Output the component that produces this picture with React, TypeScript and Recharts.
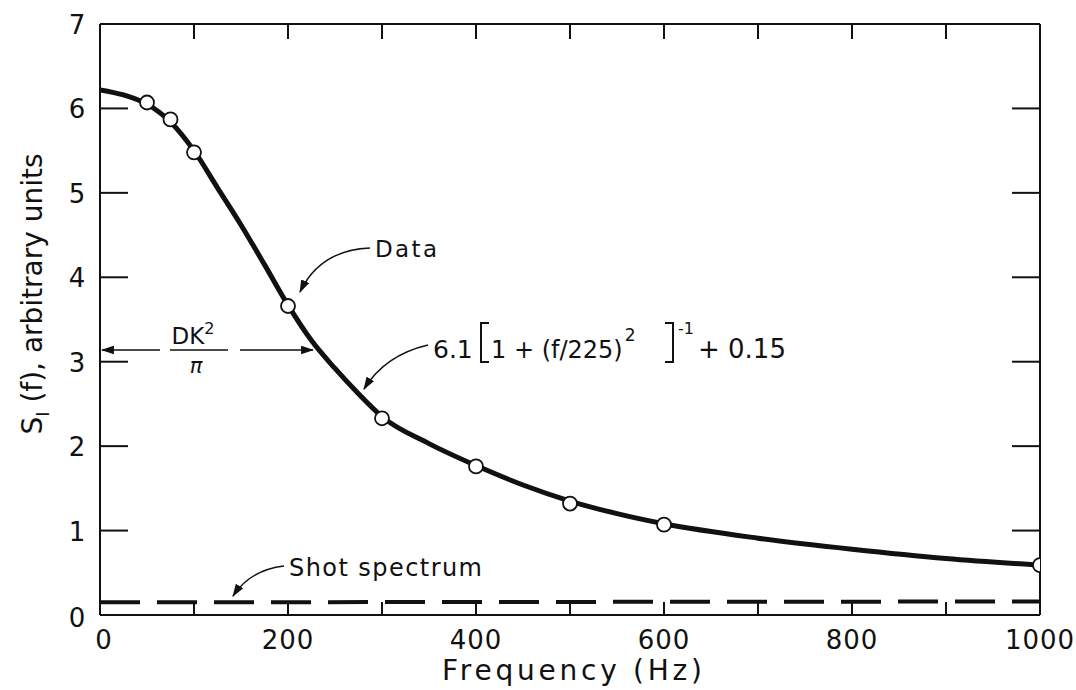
import { ComposedChart, Line, XAxis, YAxis } from "recharts";

// axis ticks
const FREQ_TICKS = [0, 100, 200, 300, 400, 500, 600, 700, 800, 900, 1000];
const FREQ_LABELS = [0, 200, 400, 600, 800, 1000];
const SI_TICKS = [0, 1, 2, 3, 4, 5, 6, 7];

// fitted curve
const fitFreq = [0, 25, 50, 75, 100, 125, 150, 175, 200, 225, 250, 275, 300, 350, 400, 450, 500, 550, 600, 700, 800, 900, 1000];
const fitValue = [6.22, 6.16, 6.05, 5.84, 5.5, 5.06, 4.62, 4.15, 3.67, 3.25, 2.92, 2.62, 2.35, 2.03, 1.77, 1.54, 1.35, 1.2, 1.08, 0.91, 0.78, 0.67, 0.59];

// measured points (open circles)
const dataFreq = [50, 75, 100, 200, 300, 400, 500, 600, 1000];
const dataValue = [6.07, 5.87, 5.48, 3.66, 2.33, 1.76, 1.32, 1.07, 0.59];

// shot-noise level (dashed)
const shotFreq = [0, 1000];
const shotValue = [0.15, 0.16];

const FONT = "DejaVu Sans";
const INK = "#111";

const zip = (xs: number[], ys: number[]) => xs.map((x, i) => ({ x, y: ys[i] }));
const fitData = zip(fitFreq, fitValue);
const pointData = zip(dataFreq, dataValue);
const shotData = zip(shotFreq, shotValue);

function BottomTick(props: any) {
  const { x, y, payload } = props;
  const v = payload.value;
  return (
    <g>
      <line x1={x} x2={x} y1={y} y2={y - 13} stroke={INK} strokeWidth={2} />
      {FREQ_LABELS.includes(v) && (
        <text x={x + (v === 0 ? 4 : 0)} y={y + 34} textAnchor="middle" fontFamily={FONT} fontSize={26} fill={INK} letterSpacing={1}>
          {v}
        </text>
      )}
    </g>
  );
}

function TopTick(props: any) {
  const { x, y, payload } = props;
  if (payload.value === 0 || payload.value === 1000) return null;
  return <line x1={x} x2={x} y1={y} y2={y + 15} stroke={INK} strokeWidth={2} />;
}

function LeftTick(props: any) {
  const { x, y, payload } = props;
  const v = payload.value;
  return (
    <g>
      {v > 0 && v < 7 && <line x1={x} x2={x + 28} y1={y} y2={y} stroke={INK} strokeWidth={2} />}
      <text x={x - 23} y={y + (v === 0 ? 12 : 10)} textAnchor="middle" fontFamily={FONT} fontSize={26} fill={INK}>
        {v}
      </text>
    </g>
  );
}

function RightTick(props: any) {
  const { x, y, payload } = props;
  const v = payload.value;
  if (v === 0 || v === 7) return null;
  return <line x1={x} x2={x - 28} y1={y} y2={y} stroke={INK} strokeWidth={2} />;
}

function Annotations() {
  const txt = { fontFamily: FONT, fill: INK };
  return (
    <svg width={1076} height={690} style={{ position: "absolute", left: 0, top: 0, pointerEvents: "none" }}>
      <defs>
        <marker id="head" viewBox="0 0 12 8" refX={11} refY={4} markerWidth={13} markerHeight={9} markerUnits="userSpaceOnUse" orient="auto">
          <path d="M0,0 L12,4 L0,8 z" fill={INK} />
        </marker>
      </defs>

      {/* Data */}
      <text x={375} y={257} fontSize={23} textLength={62} lengthAdjust="spacing" {...txt}>Data</text>
      <path d="M370 248 Q 320 250 300 292" fill="none" stroke={INK} strokeWidth={1.5} markerEnd="url(#head)" />

      {/* DK^2 / pi */}
      <line x1={160} y1={350} x2={102} y2={350} stroke={INK} strokeWidth={1.5} markerEnd="url(#head)" />
      <line x1={240} y1={350} x2={313} y2={350} stroke={INK} strokeWidth={1.5} markerEnd="url(#head)" />
      <line x1={170} y1={350} x2={228} y2={350} stroke={INK} strokeWidth={1.5} />
      <text x={193} y={344} textAnchor="middle" fontSize={23} {...txt}>
        DK<tspan dy={-10} fontSize={16}>2</tspan>
      </text>
      <text x={196} y={373} textAnchor="middle" fontSize={21} fontStyle="italic" {...txt}>π</text>

      {/* fit formula */}
      <path d="M428 345 Q 385 355 364 389" fill="none" stroke={INK} strokeWidth={1.5} markerEnd="url(#head)" />
      <text x={433} y={358} fontSize={25} {...txt}>6.1</text>
      <path d="M489 323 L481 323 L481 362 L489 362" fill="none" stroke={INK} strokeWidth={2} />
      <text x={491} y={358} fontSize={24} {...txt}>
        1 + (f/225)<tspan dx={2} dy={-17} fontSize={17}>2</tspan>
      </text>
      <path d="M665 323 L673 323 L673 362 L665 362" fill="none" stroke={INK} strokeWidth={2} />
      <text x={678} y={334} fontSize={16} {...txt}>-1</text>
      <text x={698} y={358} fontSize={26} {...txt}>+ 0.15</text>

      {/* shot spectrum */}
      <text x={289} y={576} fontSize={24} textLength={193} lengthAdjust="spacing" {...txt}>Shot spectrum</text>
      <path d="M284 566 Q 250 570 233 596" fill="none" stroke={INK} strokeWidth={1.5} markerEnd="url(#head)" />

      {/* axis titles */}
      <text x={442} y={680} fontSize={28} textLength={260} lengthAdjust="spacing" {...txt}>Frequency (Hz)</text>
      <text transform="translate(42,294) rotate(-90)" textAnchor="middle" fontSize={28} {...txt}>
        S<tspan dy={7} fontSize={18}>I</tspan><tspan dy={-7}> (f), arbitrary units</tspan>
      </text>
    </svg>
  );
}

export default function App() {
  return (
    <div style={{ position: "absolute", left: 0, top: 0, width: 1076, height: 690, background: "#fff" }}>
      <ComposedChart width={1076} height={690} margin={{ top: 0, right: 0, bottom: 0, left: 0 }}>
        <XAxis
          dataKey="x"
          type="number"
          domain={[0, 1000]}
          ticks={FREQ_TICKS}
          height={75}
          tickSize={0}
          tickMargin={0}
          tickLine={false}
          tick={BottomTick}
          axisLine={{ stroke: INK, strokeWidth: 2 }}
          allowDataOverflow
        />
        <XAxis
          xAxisId="top"
          orientation="top"
          dataKey="x"
          type="number"
          domain={[0, 1000]}
          ticks={FREQ_TICKS}
          height={24}
          tickSize={0}
          tickMargin={0}
          tickLine={false}
          tick={TopTick}
          axisLine={{ stroke: INK, strokeWidth: 2 }}
          allowDataOverflow
        />
        <YAxis
          type="number"
          domain={[0, 7]}
          ticks={SI_TICKS}
          width={100}
          tickSize={0}
          tickMargin={0}
          tickLine={false}
          tick={LeftTick}
          axisLine={{ stroke: INK, strokeWidth: 2 }}
          allowDataOverflow
        />
        <YAxis
          yAxisId="right"
          orientation="right"
          type="number"
          domain={[0, 7]}
          ticks={SI_TICKS}
          width={36}
          tickSize={0}
          tickMargin={0}
          tickLine={false}
          tick={RightTick}
          axisLine={{ stroke: INK, strokeWidth: 2 }}
          allowDataOverflow
        />
        <Line
          data={shotData}
          dataKey="y"
          type="linear"
          stroke={INK}
          strokeWidth={4}
          strokeDasharray="40 17"
          dot={false}
          isAnimationActive={false}
        />
        <Line
          data={fitData}
          dataKey="y"
          type="monotone"
          stroke={INK}
          strokeWidth={5}
          dot={false}
          isAnimationActive={false}
        />
        <Line
          data={pointData}
          dataKey="y"
          stroke="none"
          dot={{ r: 7, fill: "#fff", stroke: INK, strokeWidth: 1.8 }}
          isAnimationActive={false}
        />
      </ComposedChart>
      <Annotations />
    </div>
  );
}
